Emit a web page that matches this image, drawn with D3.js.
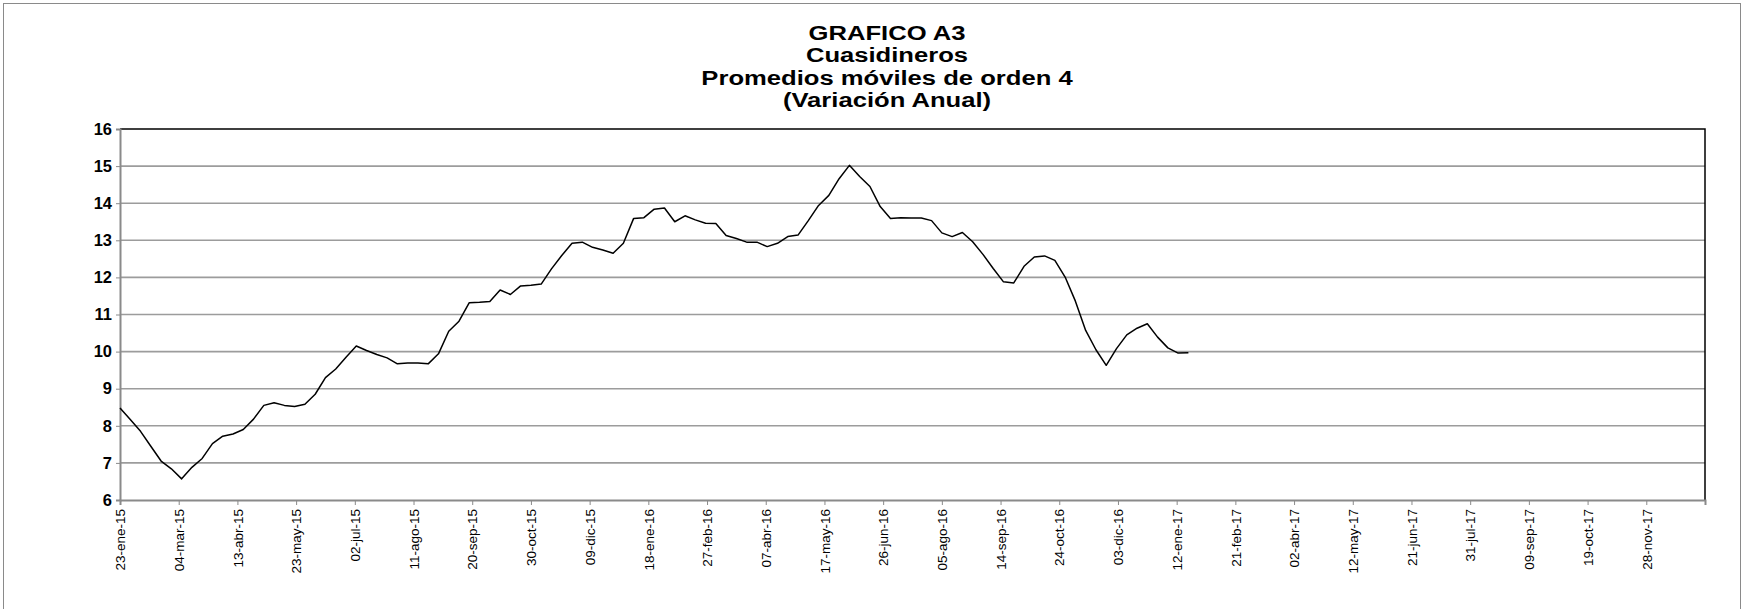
<!DOCTYPE html>
<html>
<head>
<meta charset="utf-8">
<script src="https://cdn.jsdelivr.net/npm/d3@7"></script>
<style>
  body { margin: 0; background: #fff; }
  text { font-family: "Liberation Sans", Arial, sans-serif; }
</style>
</head>
<body>
<svg id="chart"></svg>
<script>
// weekly observations, first one on 23-ene-2015
var startDate = "2015-01-23";
var values = [
	8.48, 8.17, 7.85, 7.45, 7.05, 6.84, 6.57, 6.88, 7.12, 7.52,
	7.72, 7.78, 7.90, 8.18, 8.55, 8.62, 8.55, 8.52, 8.58, 8.85,
	9.30, 9.53, 9.85, 10.15, 10.03, 9.92, 9.83, 9.67, 9.69, 9.69,
	9.67, 9.94, 10.55, 10.82, 11.32, 11.33, 11.35, 11.66, 11.54, 11.77,
	11.79, 11.82, 12.23, 12.59, 12.92, 12.95, 12.81, 12.74, 12.65, 12.92,
	13.59, 13.61, 13.84, 13.87, 13.50, 13.66, 13.55, 13.46, 13.45, 13.13,
	13.05, 12.95, 12.95, 12.83, 12.92, 13.10, 13.14, 13.53, 13.94, 14.21,
	14.66, 15.02, 14.72, 14.45, 13.91, 13.59, 13.61, 13.60, 13.60, 13.53,
	13.20, 13.10, 13.21, 12.96, 12.62, 12.24, 11.88, 11.85, 12.30, 12.55,
	12.58, 12.46, 12.01, 11.36, 10.57, 10.05, 9.63, 10.08, 10.45, 10.63,
	10.75, 10.39, 10.10, 9.96, 9.97
];
var titleLines = ["GRAFICO A3", "Cuasidineros", "Promedios móviles de orden 4", "(Variación Anual)"];
var yTicks = [6, 7, 8, 9, 10, 11, 12, 13, 14, 15, 16];
var tickStepDays = 40;
var tickCount = 27;
var axisEndDays = 1080;
var shortMonths = ["ene", "feb", "mar", "abr", "may", "jun", "jul", "ago", "sep", "oct", "nov", "dic"];

var W = 1744, H = 609;
var margin = { left: 120, right: 39, top: 129, bottom: 109 };

var svg = d3.select("#chart")
	.attr("width", W)
	.attr("height", H);

svg.append("rect")
	.attr("x", 3.5).attr("y", 3.5)
	.attr("width", W - 7).attr("height", H + 10)
	.attr("fill", "#fff")
	.attr("stroke", "#8a8a8a")
	.attr("stroke-width", 1);

var start = d3.utcParse("%Y-%m-%d")(startDate);
var data = values.map(function (v, i) {
	return { date: d3.utcDay.offset(start, 7 * i), value: v };
});

var xScale = d3.scaleUtc()
	.domain([start, d3.utcDay.offset(start, axisEndDays)])
	.range([margin.left, W - margin.right]);
var yScale = d3.scaleLinear()
	.domain([6, 16])
	.range([H - margin.bottom, margin.top]);

var es = d3.timeFormatLocale({
	dateTime: "%x, %X", date: "%d/%m/%Y", time: "%H:%M:%S",
	periods: ["AM", "PM"],
	days: ["domingo", "lunes", "martes", "miércoles", "jueves", "viernes", "sábado"],
	shortDays: ["dom", "lun", "mar", "mié", "jue", "vie", "sáb"],
	months: ["enero", "febrero", "marzo", "abril", "mayo", "junio", "julio", "agosto", "septiembre", "octubre", "noviembre", "diciembre"],
	shortMonths: shortMonths
});
var fmt = es.utcFormat("%d-%b-%y");

var xTickValues = d3.range(tickCount).map(function (i) {
	return d3.utcDay.offset(start, tickStepDays * i);
});

// gridlines
svg.append("g")
	.selectAll("line")
	.data(yTicks.slice(1, -1))
	.enter()
	.append("line")
	.attr("x1", margin.left)
	.attr("x2", W - margin.right)
	.attr("y1", function (d) { return yScale(d); })
	.attr("y2", function (d) { return yScale(d); })
	.attr("stroke", "#9c9c9c")
	.attr("stroke-width", 1.6);

// top and right frame
svg.append("path")
	.attr("d", "M" + margin.left + "," + yScale(16) + "H" + xScale.range()[1] + "V" + yScale(6))
	.attr("fill", "none")
	.attr("stroke", "#000")
	.attr("stroke-width", 1.5);

var xAxis = d3.axisBottom(xScale)
	.tickValues(xTickValues)
	.tickFormat(fmt)
	.tickSizeOuter(0)
	.tickSize(5);
var gx = svg.append("g")
	.attr("transform", "translate(0," + yScale(6) + ")")
	.call(xAxis);
gx.select(".domain").attr("stroke", "#8a8a8a").attr("stroke-width", 2);
gx.selectAll(".tick line").attr("stroke", "#8a8a8a");
gx.selectAll(".tick text")
	.attr("transform", "rotate(-90)")
	.attr("text-anchor", "end")
	.attr("x", -9)
	.attr("y", 0)
	.attr("dy", "0.35em")
	.attr("font-size", 13.5)
	.attr("fill", "#000");

var yAxis = d3.axisLeft(yScale)
	.tickValues(yTicks)
	.tickSizeOuter(0)
	.tickSize(4);
var gy = svg.append("g")
	.attr("transform", "translate(" + margin.left + ",0)")
	.call(yAxis);
gy.select(".domain").attr("stroke", "#8a8a8a").attr("stroke-width", 2);
gy.selectAll(".tick line").attr("stroke", "#8a8a8a");
gy.selectAll(".tick text")
	.attr("x", -8)
	.attr("font-size", 16.5)
	.attr("font-weight", "bold")
	.attr("fill", "#000");

var line = d3.line()
	.x(function (d) { return xScale(d.date); })
	.y(function (d) { return yScale(d.value); });

svg.append("path")
	.datum(data)
	.attr("d", line)
	.attr("fill", "none")
	.attr("stroke", "#000")
	.attr("stroke-width", 1.5)
	.attr("stroke-linejoin", "round");

// title, slightly stretched like the original
svg.append("g")
	.selectAll("text")
	.data(titleLines)
	.enter()
	.append("text")
	.attr("transform", function (d, i) {
		return "translate(887," + (40 + i * 22.3) + ") scale(1.22,1)";
	})
	.attr("text-anchor", "middle")
	.attr("font-size", 21)
	.attr("font-weight", "bold")
	.text(function (d) { return d; });
</script>
</body>
</html>
